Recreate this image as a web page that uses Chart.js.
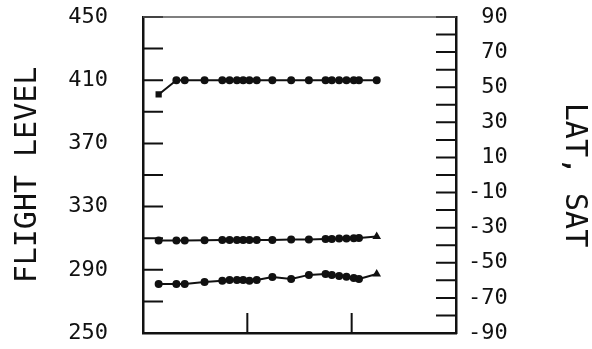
<!DOCTYPE html>
<html>
<head>
<meta charset="utf-8">
<script src="https://cdn.jsdelivr.net/npm/chart.js@4/dist/chart.umd.min.js"></script>
<style>
  html, body { margin: 0; padding: 0; background: #fff; }
  #wrap { width: 592px; height: 349px; }
</style>
</head>
<body>
<div id="wrap"><canvas id="chart"></canvas></div>
<script>
// time along the flight (x axis has no labels, ticks at 1 and 2)
const times = [0.15, 0.32, 0.40, 0.59, 0.76, 0.83, 0.90, 0.96, 1.02, 1.09, 1.24, 1.42, 1.59, 1.75, 1.81, 1.88, 1.95, 2.02, 2.07, 2.24];
const flightLevel = [401, 410, 410, 410, 410, 410, 410, 410, 410, 410, 410, 410, 410, 410, 410, 410, 410, 410, 410, 410];
const latitude = [-37.3, -37.3, -37.3, -37.2, -37.0, -37.0, -37.0, -37.0, -37.0, -37.0, -37.0, -36.8, -36.7, -36.5, -36.4, -36.2, -36.1, -36.0, -35.9, -35.0];
const sat = [-62.1, -62.1, -62.1, -60.9, -60.3, -59.8, -59.8, -59.8, -60.3, -59.8, -58.1, -59.2, -56.9, -56.4, -56.9, -57.5, -58.0, -58.6, -59.2, -56.4];
const leftLabels = [250, 290, 330, 370, 410, 450];
const rightLabels = [-90, -70, -50, -30, -10, 10, 30, 50, 70, 90];
const xTickMarks = [1, 2];

const ink = '#111';
const mono = 'DejaVu Sans Mono';

function toPoints(ys) {
    return ys.map((y, i) => ({ x: times[i], y: y }));
}

function lastTriangle(n) {
    const styles = [];
    for (let i = 0; i < n; i++) styles.push(i === n - 1 ? 'triangle' : 'circle');
    return styles;
}

// tick marks drawn inward from the frame, as on the original plot
const inwardTicks = {
    id: 'inwardTicks',
    afterDatasetsDraw(chart) {
        const ctx = chart.ctx;
        const a = chart.chartArea;
        const yL = chart.scales.yFL;
        const yR = chart.scales.yR;
        const x = chart.scales.x;
        const len = 20;
        ctx.save();
        ctx.strokeStyle = ink;
        ctx.lineWidth = 2;
        ctx.beginPath();
        yL.ticks.forEach(t => {
            const py = yL.getPixelForValue(t.value);
            ctx.moveTo(a.left, py);
            ctx.lineTo(a.left + len, py);
        });
        yR.ticks.forEach(t => {
            const py = yR.getPixelForValue(t.value);
            ctx.moveTo(a.right, py);
            ctx.lineTo(a.right - len, py);
        });
        xTickMarks.forEach(v => {
            const px = x.getPixelForValue(v);
            ctx.moveTo(px, a.bottom);
            ctx.lineTo(px, a.bottom - len);
        });
        ctx.stroke();
        // faint top edge of the frame
        ctx.strokeStyle = '#555';
        ctx.lineWidth = 1.5;
        ctx.beginPath();
        ctx.moveTo(a.left, a.top);
        ctx.lineTo(a.right, a.top);
        ctx.stroke();
        ctx.restore();
    }
};

const lineStyle = {
    borderColor: ink,
    backgroundColor: ink,
    borderWidth: 2,
    pointRadius: 3,
    pointHoverRadius: 3,
    tension: 0
};

const clear = 'rgba(0,0,0,0)';

new Chart(document.getElementById('chart'), {
    type: 'line',
    data: {
        datasets: [
            Object.assign({ label: 'Flight level', data: toPoints(flightLevel), yAxisID: 'yFL',
                pointStyle: flightLevel.map((v, i) => i === 0 ? 'rect' : 'circle') }, lineStyle),
            Object.assign({ label: 'Latitude', data: toPoints(latitude), yAxisID: 'yR',
                pointStyle: lastTriangle(latitude.length), pointRadius: latitude.map((v, i) => i === latitude.length - 1 ? 4 : 2.5) }, lineStyle),
            Object.assign({ label: 'SAT', data: toPoints(sat), yAxisID: 'yR',
                pointStyle: lastTriangle(sat.length), pointRadius: sat.map((v, i) => i === sat.length - 1 ? 4 : 3) }, lineStyle)
        ]
    },
    options: {
        responsive: true,
        maintainAspectRatio: false,
        animation: false,
        events: [],
        layout: { padding: { top: 17, left: 0, right: 0, bottom: 0 } },
        plugins: {
            legend: { display: false },
            tooltip: { enabled: false }
        },
        scales: {
            x: {
                type: 'linear',
                min: 0,
                max: 3,
                ticks: { display: false, stepSize: 1 },
                grid: { drawOnChartArea: false, drawTicks: false },
                border: { display: true, color: ink, width: 2.5 },
                afterFit: function (s) { s.height = 16; }
            },
            yFL: {
                type: 'linear',
                position: 'left',
                min: 250,
                max: 450,
                ticks: {
                    stepSize: 20,
                    autoSkip: false,
                    padding: 0,
                    color: ink,
                    font: { family: mono, size: 22 },
                    callback: v => leftLabels.includes(v) ? String(v) : ''
                },
                // invisible outer tick marks only push the labels away from the frame
                grid: { drawOnChartArea: false, drawTicks: true, tickLength: 35, tickColor: clear },
                border: { display: true, color: ink, width: 2.5 },
                title: {
                    display: true,
                    text: 'FLIGHT LEVEL',
                    color: ink,
                    font: { family: mono, size: 30 },
                    padding: { top: 10, bottom: 0 }
                },
                afterFit: function (s) { s.width = 143; }
            },
            yR: {
                type: 'linear',
                position: 'right',
                min: -90,
                max: 90,
                ticks: {
                    stepSize: 10,
                    autoSkip: false,
                    padding: 0,
                    color: ink,
                    font: { family: mono, size: 22 },
                    callback: v => rightLabels.includes(v) ? String(v).padStart(3, ' ') : ''
                },
                grid: { drawOnChartArea: false, drawTicks: true, tickLength: 12, tickColor: clear },
                border: { display: true, color: ink, width: 2.5 },
                title: {
                    display: true,
                    text: 'LAT, SAT',
                    color: ink,
                    font: { family: mono, size: 30 },
                    padding: { top: 0, bottom: 2 }
                },
                afterFit: function (s) { s.width = 136; }
            }
        }
    },
    plugins: [inwardTicks]
});
</script>
</body>
</html>
